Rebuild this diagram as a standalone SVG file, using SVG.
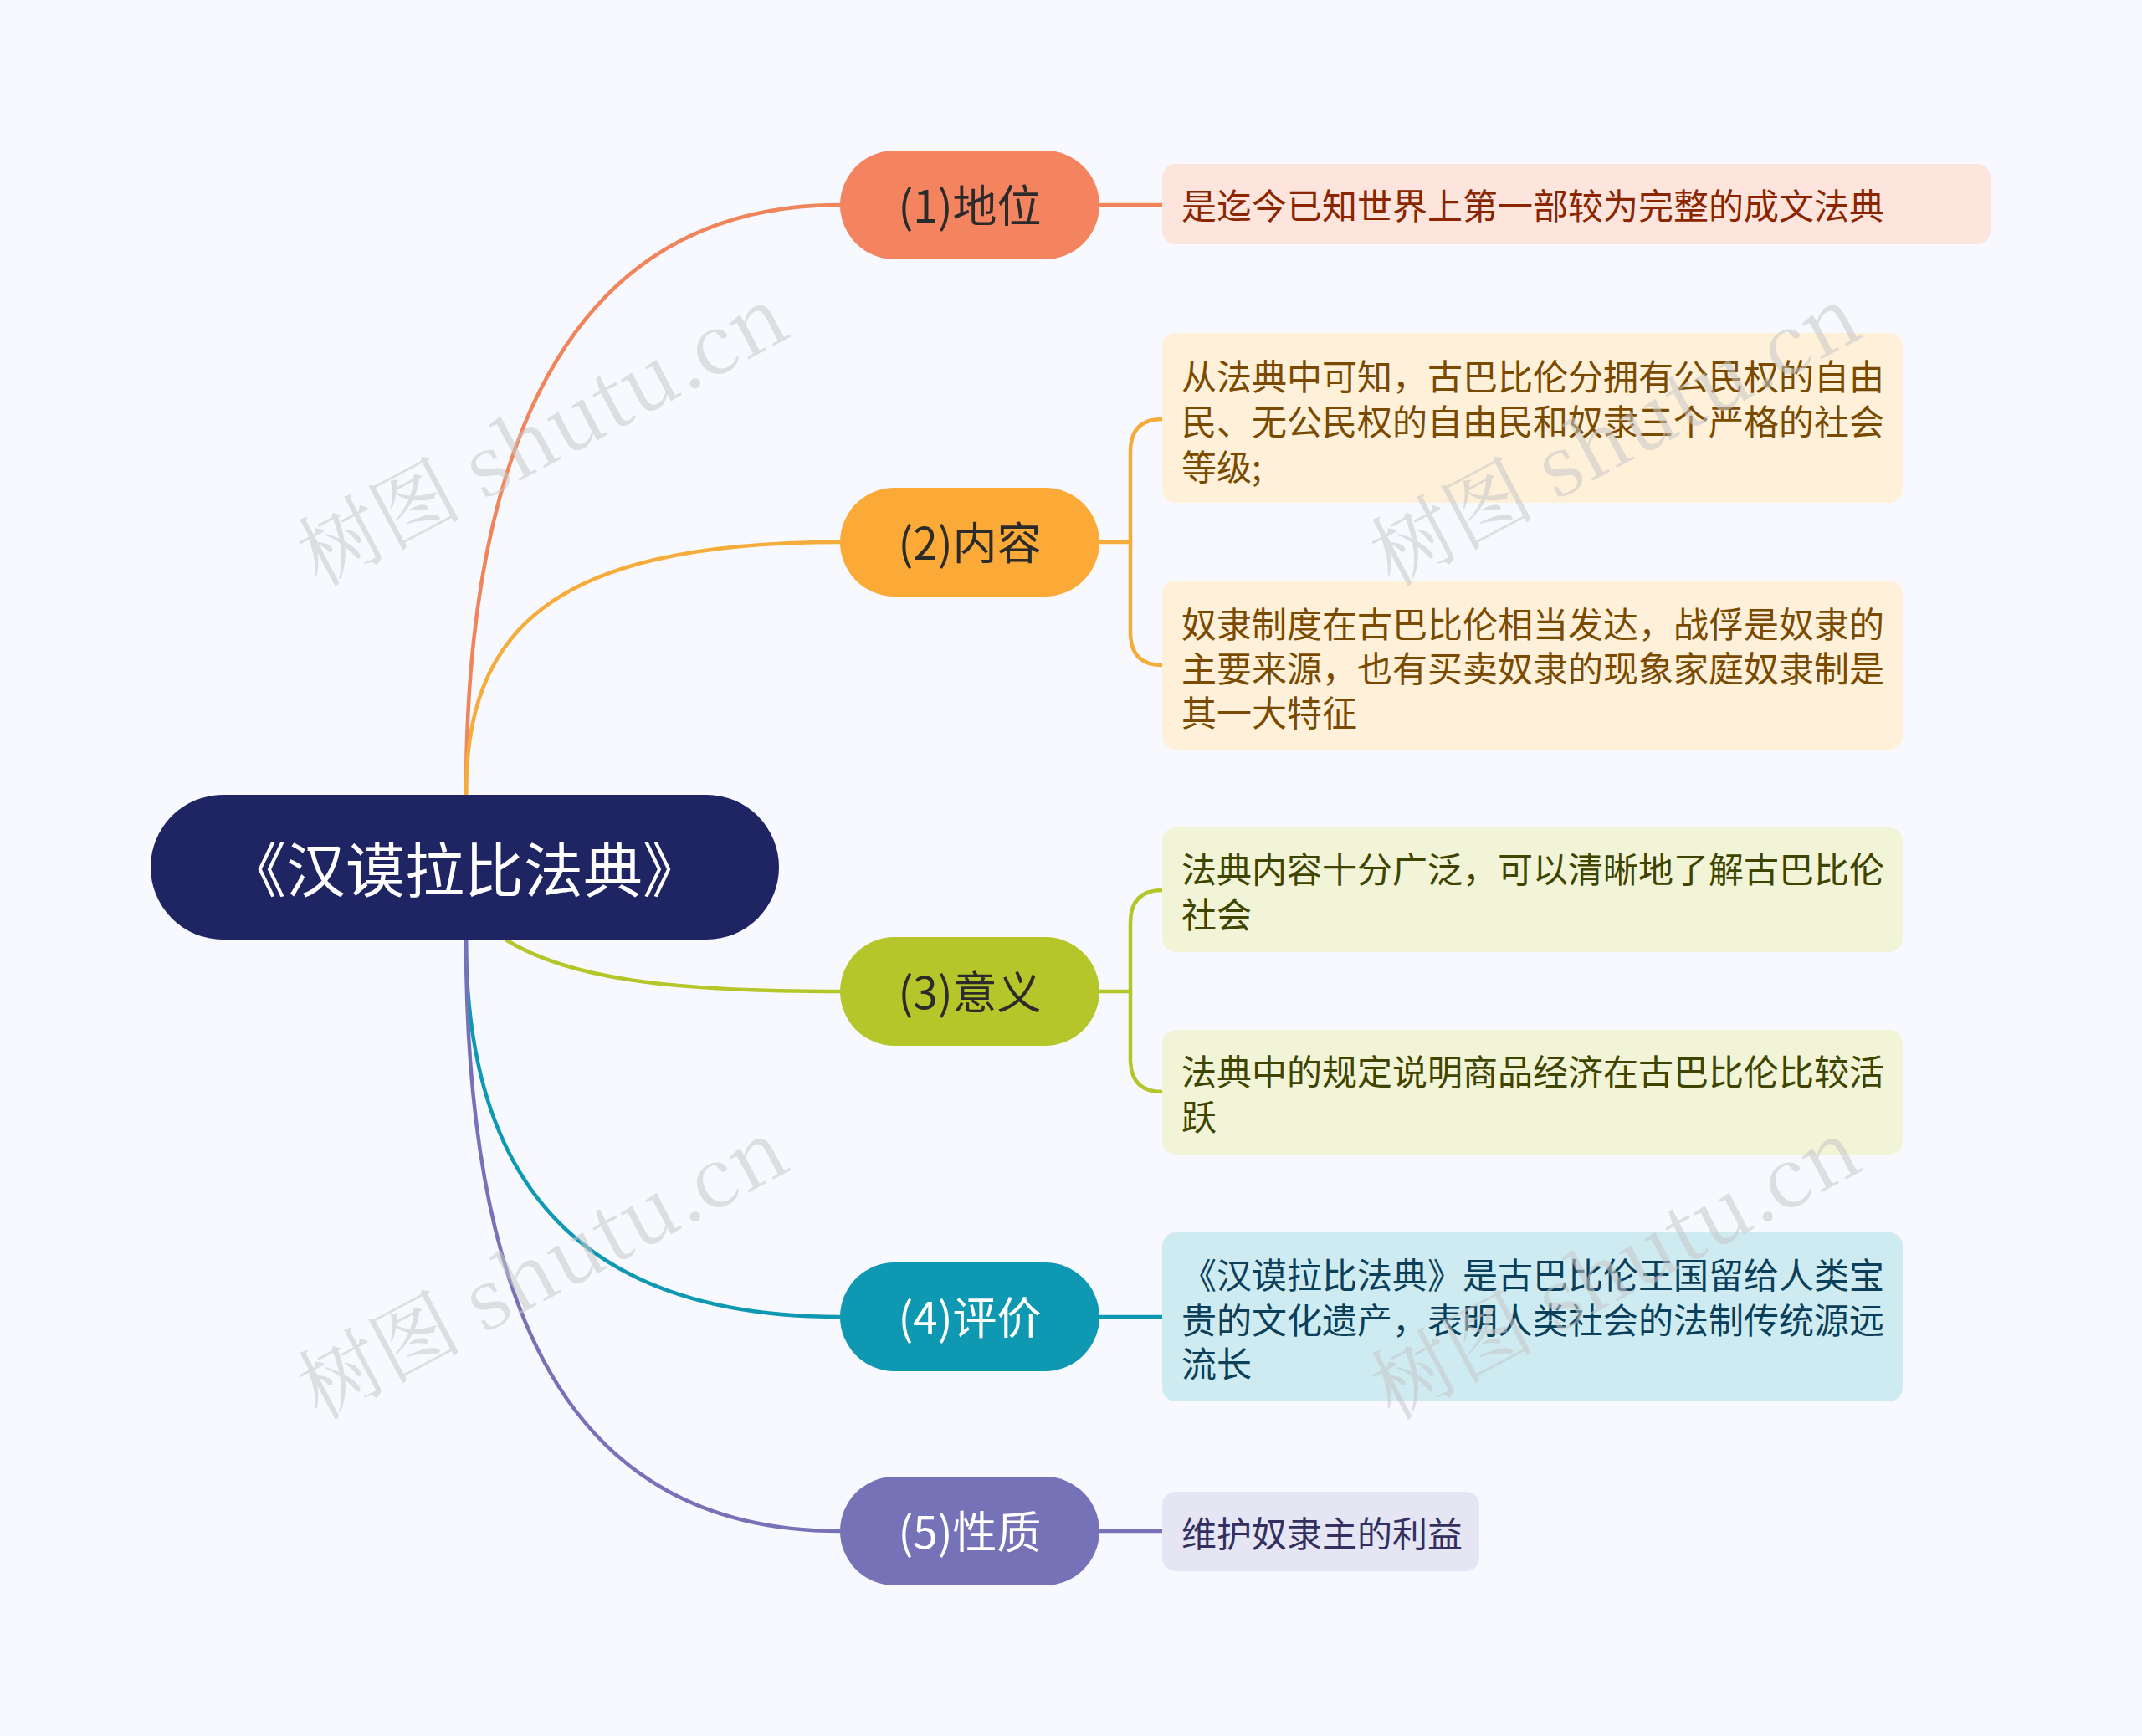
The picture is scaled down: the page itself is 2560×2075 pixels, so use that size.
<svg xmlns="http://www.w3.org/2000/svg" width="2560" height="2075" viewBox="0 0 2560 2075">
<style>
.t{font-family:"Noto Sans CJK SC","Noto Sans",sans-serif}
.b{font-size:53px;text-anchor:middle;dominant-baseline:central}
.l{font-size:42px;dominant-baseline:central}
.c{fill:none;stroke-width:4.5}
.w{font-family:"Noto Serif CJK SC","Liberation Serif","Noto Sans CJK SC",serif;font-size:98px;fill:#c8c8c8;opacity:0.55}
</style>
<rect width="2560" height="2075" fill="#F8F9FE"/>
<g id="connectors">
<path class="c" stroke="#F0845A" d="M557 950 C557 500 700 245 1004 245"/>
<path class="c" stroke="#F5AC3A" d="M557 950 C557 760 650 648 1004 648"/>
<path class="c" stroke="#B5C62A" d="M604 1123 C680 1170 800 1185 1004 1185"/>
<path class="c" stroke="#0E98B1" d="M557 1123 C557 1420 700 1574 1004 1574"/>
<path class="c" stroke="#7672B8" d="M557 1123 C557 1600 700 1830 1004 1830"/>
<path class="c" stroke="#F0845A" d="M1314 245 H1389"/>
<path class="c" stroke="#F5AC3A" d="M1314 648 H1349 M1389 501 Q1351 501 1351 540 V756 Q1351 795 1389 795"/>
<path class="c" stroke="#B5C62A" d="M1314 1185 H1349 M1389 1064 Q1351 1064 1351 1103 V1266 Q1351 1305 1389 1305"/>
<path class="c" stroke="#0E98B1" d="M1314 1574 H1389"/>
<path class="c" stroke="#7672B8" d="M1314 1830 H1389"/>
</g>
<g id="root"><rect x="180" y="950" width="751" height="173" rx="86.5" fill="#1F2462"/><text class="t" x="555" y="1035" font-size="71" fill="#fff" text-anchor="middle" dominant-baseline="central">《汉谟拉比法典》</text></g>
<g id="n1"><rect x="1004" y="180" width="310" height="130" rx="65" fill="#F4845F"/><text class="t b" x="1159" y="243" fill="#2b2b2b">(1)地位</text></g>
<g id="n2"><rect x="1004" y="583" width="310" height="130" rx="65" fill="#FBAA38"/><text class="t b" x="1159" y="646" fill="#2b2b2b">(2)内容</text></g>
<g id="n3"><rect x="1004" y="1120" width="310" height="130" rx="65" fill="#B5C62A"/><text class="t b" x="1159" y="1183" fill="#2b2b2b">(3)意义</text></g>
<g id="n4"><rect x="1004" y="1509" width="310" height="130" rx="65" fill="#0E98B1"/><text class="t b" x="1159" y="1572" fill="#fff">(4)评价</text></g>
<g id="n5"><rect x="1004" y="1765" width="310" height="130" rx="65" fill="#7672B8"/><text class="t b" x="1159" y="1828" fill="#fff">(5)性质</text></g>
<g id="l1"><rect x="1389" y="196" width="990" height="96" rx="16" fill="#FDE5DD"/><text class="t l" x="1412" y="243" fill="#8B2500">是迄今已知世界上第一部较为完整的成文法典</text></g>
<g id="l2a"><rect x="1389" y="398" width="885" height="203" rx="16" fill="#FEF0D9"/><text class="t l" fill="#7A4A00"><tspan x="1412" y="447">从法典中可知，古巴比伦分拥有公民权的自由</tspan><tspan x="1412" y="501">民、无公民权的自由民和奴隶三个严格的社会</tspan><tspan x="1412" y="555">等级;</tspan></text></g>
<g id="l2b"><rect x="1389" y="694" width="885" height="202" rx="16" fill="#FEF0D9"/><text class="t l" fill="#7A4A00"><tspan x="1412" y="743">奴隶制度在古巴比伦相当发达，战俘是奴隶的</tspan><tspan x="1412" y="796">主要来源，也有买卖奴隶的现象家庭奴隶制是</tspan><tspan x="1412" y="849">其一大特征</tspan></text></g>
<g id="l3a"><rect x="1389" y="989" width="885" height="149" rx="16" fill="#F1F4D6"/><text class="t l" fill="#3F4500"><tspan x="1412" y="1036">法典内容十分广泛，可以清晰地了解古巴比伦</tspan><tspan x="1412" y="1090">社会</tspan></text></g>
<g id="l3b"><rect x="1389" y="1231" width="885" height="149" rx="16" fill="#F1F4D6"/><text class="t l" fill="#3F4500"><tspan x="1412" y="1278">法典中的规定说明商品经济在古巴比伦比较活</tspan><tspan x="1412" y="1332">跃</tspan></text></g>
<g id="l4"><rect x="1389" y="1473" width="885" height="202" rx="16" fill="#CDEBF1"/><text class="t l" fill="#0B3F5A"><tspan x="1412" y="1521">《汉谟拉比法典》是古巴比伦王国留给人类宝</tspan><tspan x="1412" y="1575">贵的文化遗产，表明人类社会的法制传统源远</tspan><tspan x="1412" y="1627">流长</tspan></text></g>
<g id="l5"><rect x="1389" y="1783" width="379" height="95" rx="16" fill="#E6E5F3"/><text class="t l" x="1412" y="1830" fill="#33305F">维护奴隶主的利益</text></g>
<g id="watermarks">
<text class="w" transform="translate(645 514) rotate(-28)" text-anchor="middle" dominant-baseline="central">树图 shutu.cn</text>
<text class="w" transform="translate(1927 514) rotate(-28)" text-anchor="middle" dominant-baseline="central">树图 shutu.cn</text>
<text class="w" transform="translate(645 1510) rotate(-28)" text-anchor="middle" dominant-baseline="central">树图 shutu.cn</text>
<text class="w" transform="translate(1927 1510) rotate(-28)" text-anchor="middle" dominant-baseline="central">树图 shutu.cn</text>
</g>
</svg>
